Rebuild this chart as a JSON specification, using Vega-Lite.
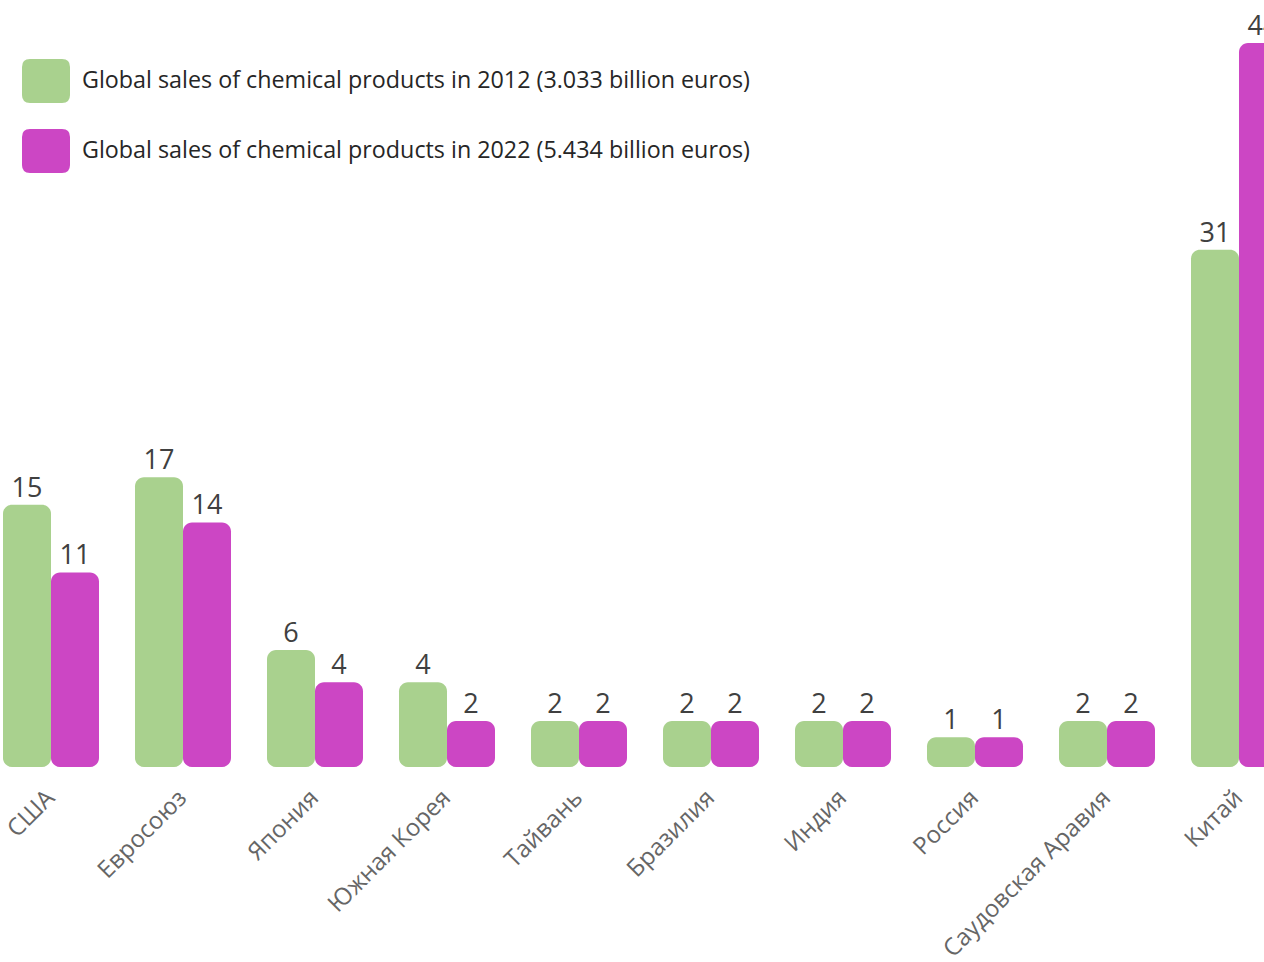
{
  "$schema": "https://vega.github.io/schema/vega-lite/v6.json",
  "width": 1261,
  "height": 724,
  "autosize": {"type": "none"},
  "padding": {"left": 3, "top": 43, "right": 0, "bottom": 195},
  "background": "white",
  "config": {"view": {"stroke": null}, "font": "Open Sans"},
  "data": {
    "values": [
      {"country": "США", "series": "Global sales of chemical products in 2012 (3.033 billion euros)", "value": 15.4},
      {"country": "США", "series": "Global sales of chemical products in 2022 (5.434 billion euros)", "value": 11.2},
      {"country": "Евросоюз", "series": "Global sales of chemical products in 2012 (3.033 billion euros)", "value": 17.1},
      {"country": "Евросоюз", "series": "Global sales of chemical products in 2022 (5.434 billion euros)", "value": 14.3},
      {"country": "Япония", "series": "Global sales of chemical products in 2012 (3.033 billion euros)", "value": 6.4},
      {"country": "Япония", "series": "Global sales of chemical products in 2022 (5.434 billion euros)", "value": 4.4},
      {"country": "Южная Корея", "series": "Global sales of chemical products in 2012 (3.033 billion euros)", "value": 4.4},
      {"country": "Южная Корея", "series": "Global sales of chemical products in 2022 (5.434 billion euros)", "value": 2.0},
      {"country": "Тайвань", "series": "Global sales of chemical products in 2012 (3.033 billion euros)", "value": 2.0},
      {"country": "Тайвань", "series": "Global sales of chemical products in 2022 (5.434 billion euros)", "value": 2.0},
      {"country": "Бразилия", "series": "Global sales of chemical products in 2012 (3.033 billion euros)", "value": 2.0},
      {"country": "Бразилия", "series": "Global sales of chemical products in 2022 (5.434 billion euros)", "value": 2.0},
      {"country": "Индия", "series": "Global sales of chemical products in 2012 (3.033 billion euros)", "value": 2.0},
      {"country": "Индия", "series": "Global sales of chemical products in 2022 (5.434 billion euros)", "value": 2.0},
      {"country": "Россия", "series": "Global sales of chemical products in 2012 (3.033 billion euros)", "value": 1.0},
      {"country": "Россия", "series": "Global sales of chemical products in 2022 (5.434 billion euros)", "value": 1.0},
      {"country": "Саудовская Аравия", "series": "Global sales of chemical products in 2012 (3.033 billion euros)", "value": 2.0},
      {"country": "Саудовская Аравия", "series": "Global sales of chemical products in 2022 (5.434 billion euros)", "value": 2.0},
      {"country": "Китай", "series": "Global sales of chemical products in 2012 (3.033 billion euros)", "value": 31.2},
      {"country": "Китай", "series": "Global sales of chemical products in 2022 (5.434 billion euros)", "value": 44.0}
    ]
  },
  "encoding": {
    "x": {
      "field": "country",
      "type": "nominal",
      "sort": null,
      "scale": {"range": [0, 1284], "paddingInner": 0.2727, "paddingOuter": 0},
      "axis": {
        "title": null,
        "domain": false,
        "ticks": false,
        "labelAngle": -45,
        "labelAlign": "right",
        "labelBaseline": "middle",
        "labelFont": "Open Sans",
        "labelFontSize": 24,
        "labelColor": "#666666",
        "labelPadding": 27,
        "labelLimit": 0
      }
    },
    "xOffset": {
      "field": "series",
      "type": "nominal",
      "sort": null,
      "scale": {"paddingInner": 0, "paddingOuter": 0}
    },
    "y": {
      "field": "value",
      "type": "quantitative",
      "scale": {"domain": [-0.85, 44], "nice": false, "zero": false},
      "axis": null
    }
  },
  "layer": [
    {
      "mark": {"type": "bar", "cornerRadius": 9},
      "encoding": {
        "y2": {"datum": -0.85},
        "color": {
          "field": "series",
          "type": "nominal",
          "sort": null,
          "scale": {"range": ["#a9d18e", "#cc46c4"]},
          "legend": {
            "orient": "none",
            "legendX": 19,
            "legendY": 14,
            "title": null,
            "padding": 0,
            "symbolType": "M -0.67 -0.917 L 0.67 -0.917 Q 1 -0.917 1 -0.587 L 1 0.587 Q 1 0.917 0.67 0.917 L -0.67 0.917 Q -1 0.917 -1 0.587 L -1 -0.587 Q -1 -0.917 -0.67 -0.917 Z",
            "symbolSize": 2304,
            "symbolStrokeWidth": 0,
            "symbolOpacity": 1,
            "labelFont": "Open Sans",
            "labelFontSize": 23.3,
            "labelColor": "#262626",
            "labelOffset": 12,
            "rowPadding": 23,
            "labelLimit": 0
          }
        }
      }
    },
    {
      "mark": {"type": "text", "baseline": "bottom", "align": "center", "dy": -2, "fontSize": 27, "font": "Open Sans", "color": "#404040"},
      "encoding": {"text": {"field": "value", "type": "quantitative", "format": ".0f"}}
    }
  ]
}
